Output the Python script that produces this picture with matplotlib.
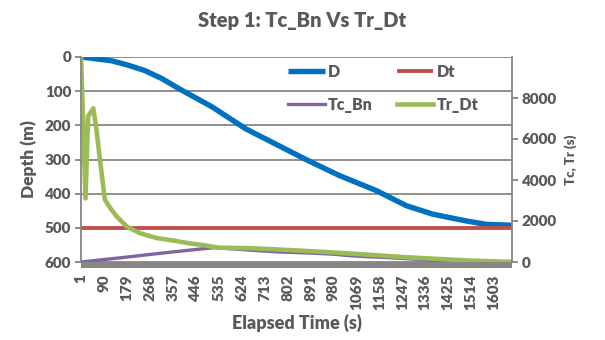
import matplotlib
matplotlib.use("Agg")
import matplotlib.pyplot as plt
from matplotlib.patches import Rectangle

plt.rcParams['font.family'] = ['Lato', 'DejaVu Sans']

# D: depth (m) vs elapsed time
time_d = [1, 119, 184, 249, 314, 379, 509, 639, 743, 873, 1003, 1146, 1262, 1365, 1496, 1574, 1657, 1672]
depth_d = [0, 11, 24, 40, 63, 92, 146, 210, 250, 300, 347, 391, 435, 460, 480, 490, 492, 493]

# Dt: target depth
time_dt = [1, 1672]
depth_dt = [500, 500]

# Tc_Bn (s)
time_tc = [1, 150, 340, 469, 520, 702, 769, 913, 983, 1042, 1108, 1166, 1217, 1283, 1342, 1404, 1521, 1599, 1672]
tc_bn = [0, 200, 470, 640, 700, 540, 490, 425, 377, 309, 260, 230, 196, 147, 98, 64, 15, 0, 0]

# Tr_Dt (s)
time_tr = [1, 18, 28, 48, 58, 74, 93, 113, 139, 178, 230, 294, 359, 418, 469, 535, 663, 796, 925, 1030, 1131, 1264, 1392, 1521, 1653, 1672]
tr_dt = [9900, 3100, 7100, 7500, 6700, 5000, 3050, 2650, 2220, 1730, 1400, 1170, 1045, 916, 833, 700, 670, 590, 505, 425, 343, 230, 147, 64, 15, 10]

xtick_labels = [1, 90, 179, 268, 357, 446, 535, 624, 713, 802, 891, 980, 1069, 1158, 1247, 1336, 1425, 1514, 1603]
depth_ticks = [0, 100, 200, 300, 400, 500, 600]
time_ticks = [0, 2000, 4000, 6000, 8000]

txt = '#595959'
grid = '#868686'

fig = plt.figure(figsize=(6.05, 3.4), dpi=100)
ax = fig.add_axes([81/605, 1 - 262/340, 431/605, 205/340])
ax2 = ax.twinx()

ax.plot(time_d, depth_d, color='#0070C0', lw=3.9, label='D', solid_capstyle='butt')
ax.plot(time_dt, depth_dt, color='#C0504D', lw=2.8, label='Dt', solid_capstyle='butt')
ax2.plot(time_tc, tc_bn, color='#8064A2', lw=2.4, label='Tc_Bn')
ax2.plot(time_tr, tr_dt, color='#9BBB59', lw=3.3, label='Tr_Dt')

ax.set_xlim(0.5, 1672.5)
ax.set_ylim(600, 0)
ax2.set_ylim(0, 10000)

ax.set_yticks(depth_ticks)
ax2.set_yticks(time_ticks)
ax.set_xticks(xtick_labels)
ax.set_xticklabels([str(v) for v in xtick_labels], rotation=90)

ax.grid(axis='y', color=grid, lw=1.3)
ax.set_axisbelow(True)
for s in ['top', 'bottom']:
    ax.spines[s].set_visible(False)
    ax2.spines[s].set_visible(False)
ax.spines['right'].set_visible(False)
ax.spines['left'].set_visible(False)
ax2.spines['left'].set_color(grid)
ax2.spines['right'].set_color(grid)
ax2.spines['left'].set_linewidth(1.3)
ax2.spines['right'].set_linewidth(1.3)

# thick band of category ticks under the plot
ax.add_patch(Rectangle((0, -6/205), 1, 6/205, transform=ax.transAxes,
                       color='#878787', clip_on=False, lw=0))

ax.tick_params(axis='y', length=4, color=grid, width=1.3, labelsize=11,
               labelcolor=txt, pad=3)
ax.tick_params(axis='x', length=0, labelsize=11, labelcolor=txt, pad=9)
ax2.tick_params(axis='y', length=4, color=grid, width=1.3, labelsize=11,
                labelcolor=txt, pad=3)
for lab in ax.get_xticklabels() + ax.get_yticklabels() + ax2.get_yticklabels():
    lab.set_fontweight('heavy')

ax.set_ylabel('Depth (m)', fontsize=12.5, fontweight='heavy', color=txt, labelpad=6)
ax2.set_ylabel('Tc, Tr (s)', fontsize=9.5, fontweight='heavy', color=txt, labelpad=5)
ax.set_xlabel('Elapsed Time (s)', fontsize=13, fontweight='heavy', color=txt, labelpad=3)
fig.text(0.5, 1 - 21/340, 'Step 1: Tc_Bn Vs Tr_Dt', ha='center', va='center',
         fontsize=14.5, fontweight='heavy', color=txt)

h1, l1 = ax.get_legend_handles_labels()
h2, l2 = ax2.get_legend_handles_labels()
handles = [h1[0], h2[0], h1[1], h2[1]]
labels = [l1[0], l2[0], l1[1], l2[1]]
leg = ax2.legend(handles, labels, ncol=2, frameon=False, loc='upper left',
                 bbox_to_anchor=(288/605, 1 - 64/340), bbox_transform=fig.transFigure,
                 borderpad=0, borderaxespad=0, handlelength=2.3, handletextpad=0.2,
                 columnspacing=1.5, labelspacing=1.05, fontsize=11.5)
for t in leg.get_texts():
    t.set_color(txt)
    t.set_fontweight('heavy')

fig.savefig('out.png', dpi=100)
